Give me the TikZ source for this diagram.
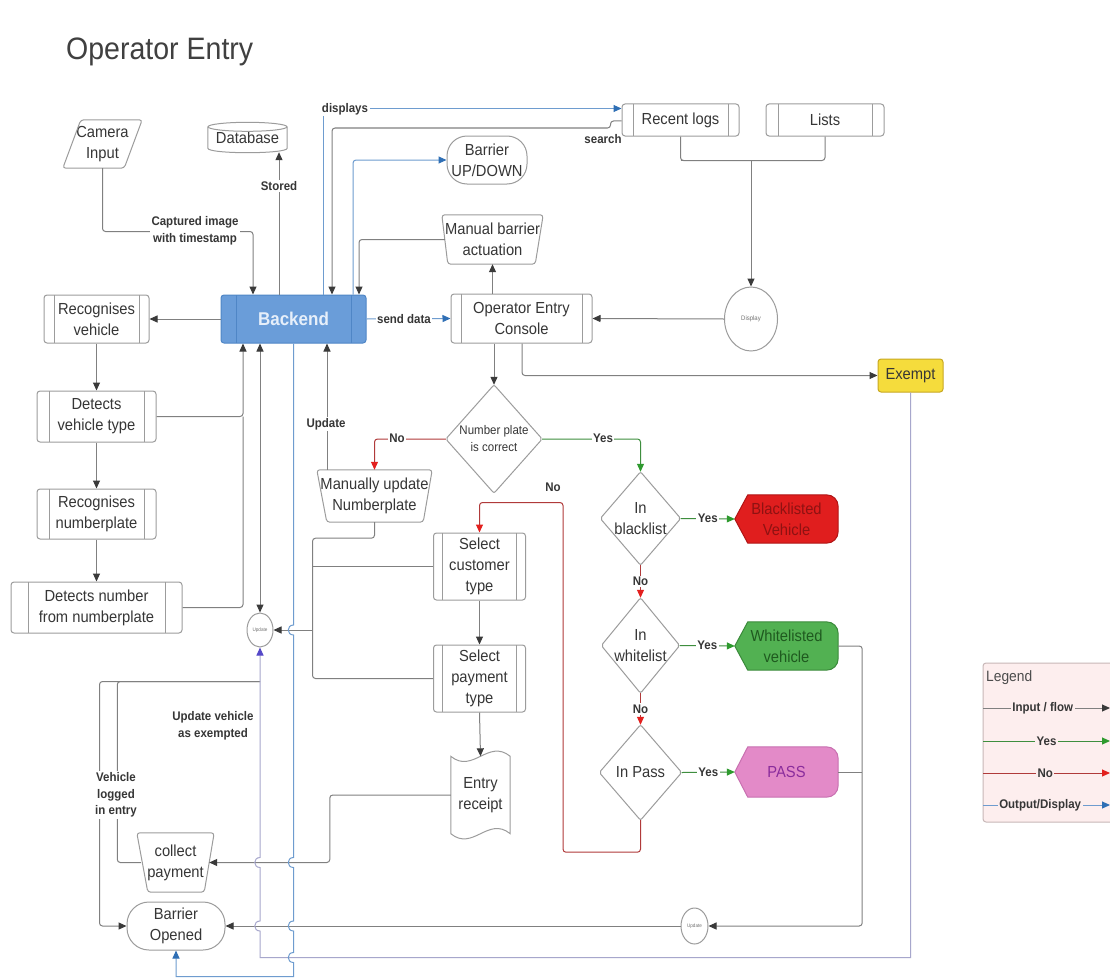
\documentclass[tikz,border=0pt]{standalone}
\usepackage{fontspec}
\setmainfont{Liberation Sans}[FakeStretch=0.92]
\usetikzlibrary{arrows.meta,backgrounds,calc,shapes.geometric}
\definecolor{txt}{HTML}{363636}
\definecolor{edge}{HTML}{9C9C9C}
\definecolor{lnc}{HTML}{808080}
\definecolor{tipc}{HTML}{3A3A3A}
\definecolor{bluel}{HTML}{6E9CCF}
\definecolor{bluet}{HTML}{2F6FB5}
\definecolor{greenl}{HTML}{3E8E3E}
\definecolor{greent}{HTML}{2E9A2E}
\definecolor{redl}{HTML}{B03A3A}
\definecolor{redt}{HTML}{E3201E}
\definecolor{purl}{HTML}{A7A7CC}
\definecolor{purt}{HTML}{5548C8}
\definecolor{backfill}{HTML}{6A9DD9}
\definecolor{backedge}{HTML}{4F86C6}
\definecolor{backtxt}{HTML}{E6EFFA}
\definecolor{exfill}{HTML}{F5DC3C}
\definecolor{exedge}{HTML}{C8A820}
\definecolor{blfill}{HTML}{E01E1E}
\definecolor{bledge}{HTML}{B01515}
\definecolor{bltxt}{HTML}{8E1212}
\definecolor{wlfill}{HTML}{52B152}
\definecolor{wledge}{HTML}{3A8A3A}
\definecolor{wltxt}{HTML}{1F5A1F}
\definecolor{psfill}{HTML}{E38AC8}
\definecolor{psedge}{HTML}{C870B0}
\definecolor{pstxt}{HTML}{8A2C9C}
\definecolor{legfill}{HTML}{FDEEEE}
\definecolor{legedge}{HTML}{C8B8B8}
\tikzset{
  baroff/.initial=10pt,
  barst/.style={draw=edge},
  base/.style={inner sep=0pt, align=center, text=txt, font=\fontsize{16}{21}\selectfont},
  shp/.style={base},
  ol/.style={draw=edge, line width=1pt},
  proc/.style={base, draw=edge, line width=1pt, rounded corners=3pt,
    path picture={\draw[barst, line width=1pt]
      ([xshift=\pgfkeysvalueof{/tikz/baroff}]path picture bounding box.north west) --
      ([xshift=\pgfkeysvalueof{/tikz/baroff}]path picture bounding box.south west)
      ([xshift=-\pgfkeysvalueof{/tikz/baroff}]path picture bounding box.north east) --
      ([xshift=-\pgfkeysvalueof{/tikz/baroff}]path picture bounding box.south east);}},
  lbl/.style={font=\bfseries\fontsize{12.5}{16.5}\selectfont, text=txt, fill=white, inner sep=1.5pt, align=center},
  lnk/.style={draw=lnc, line width=1pt},
  flink/.style={draw=lnc, line width=1pt, -{Triangle[width=7pt,length=8pt,color=tipc]}},
  olink/.style={draw=bluel, line width=1pt, -{Triangle[width=7pt,length=8pt,color=bluet]}},
  ylink/.style={draw=greenl, line width=1pt, -{Triangle[width=7pt,length=8pt,color=greent]}},
  nlink/.style={draw=redl, line width=1pt, -{Triangle[width=7pt,length=8pt,color=redt]}},
  plink/.style={draw=purl, line width=1pt, -{Triangle[width=7pt,length=8pt,color=purt]}},
}
\begin{document}
\begin{tikzpicture}[x=1pt,y=-1pt]
\useasboundingbox (0,0) rectangle (1110,979);

\node[base, anchor=west, font=\fontsize{31}{36}\selectfont, text=black!75] (title) at (66,52) {Operator Entry};

% ---------- nodes ----------
\node[shp, minimum width=79, minimum height=48] (cam) at (102.5,144) {Camera\\Input};
\node[shp, minimum width=79, minimum height=28] (db) at (247.5,138) {Database};
\node[proc, fill=backfill, draw=backedge, barst/.style={draw=backedge}, baroff=15pt,
      minimum width=145, minimum height=48, text=backtxt,
      font=\bfseries\fontsize{18.5}{22}\selectfont] (be) at (293.5,319) {Backend};
\node[proc, minimum width=105, minimum height=48] (rv) at (96.5,319) {Recognises\\vehicle};
\node[proc, baroff=12pt, minimum width=119, minimum height=51] (dvt) at (96.5,416.5) {Detects\\vehicle type};
\node[proc, baroff=12pt, minimum width=119, minimum height=50] (rn) at (96.5,514) {Recognises\\numberplate};
\node[proc, baroff=17pt, minimum width=171, minimum height=51] (dn) at (96.5,607.5) {Detects number\\from numberplate};
\node[proc, minimum width=141, minimum height=49] (con) at (521.5,318.5) {Operator Entry\\Console};
\node[proc, baroff=11pt, minimum width=117, minimum height=32] (rl) at (680.5,120) {Recent logs};
\node[proc, baroff=12pt, minimum width=118, minimum height=32] (li) at (825,120) {Lists};
\node[base, draw=edge, line width=1pt, rounded corners=20, minimum width=80, minimum height=48] (bud) at (487,160) {Barrier\\UP/DOWN};
\node[shp, minimum width=101, minimum height=49] (mba) at (492.5,239.5) {Manual barrier\\actuation};
\node[base, ellipse, draw=edge, line width=1pt, minimum width=53, minimum height=64,
      font=\fontsize{6.5}{8}\selectfont, text=black!55] (disp) at (751,319) {Display};
\node[base, draw=exedge, fill=exfill, line width=1pt, rounded corners=3, minimum width=65, minimum height=33] (ex) at (910.5,375.5) {Exempt};
\node[shp, minimum width=96, minimum height=108, font=\fontsize{12.5}{17}\selectfont] (np) at (494,439) {Number plate\\is correct};
\node[shp, minimum width=115, minimum height=52] (mun) at (374.5,496) {Manually update\\Numberplate};
\node[shp, minimum width=80, minimum height=93] (bl) at (640.5,518.5) {In\\blacklist};
\node[shp, minimum width=78, minimum height=95] (wl) at (640.5,645.5) {In\\whitelist};
\node[shp, minimum width=82, minimum height=95] (ip) at (640.5,772.5) {In Pass};
\node[shp, minimum width=103, minimum height=48, text=bltxt] (blv) at (786.5,519) {Blacklisted\\Vehicle};
\node[shp, minimum width=103, minimum height=48, text=wltxt] (wlv) at (786.5,646) {Whitelisted\\vehicle};
\node[shp, minimum width=103, minimum height=50, text=pstxt] (psv) at (786.5,772) {PASS};
\node[proc, baroff=9pt, minimum width=92, minimum height=67] (sc) at (479.5,566.5) {Select\\customer\\type};
\node[proc, baroff=9pt, minimum width=92, minimum height=67] (sp) at (479.5,678.5) {Select\\payment\\type};
\node[shp, minimum width=59, minimum height=77] (er) at (480.5,795) {Entry\\receipt};
\node[shp, minimum width=77, minimum height=59] (cp) at (175.5,862.5) {collect\\payment};
\node[base, draw=edge, line width=1pt, rounded corners=22, minimum width=98, minimum height=48] (bo) at (176,926) {Barrier\\Opened};
\node[base, ellipse, draw=edge, line width=1pt, minimum width=26, minimum height=34,
      font=\fontsize{5}{6}\selectfont, text=black!55] (up1) at (260,630) {Update};
\node[base, ellipse, draw=edge, line width=1pt, minimum width=27, minimum height=36,
      font=\fontsize{5}{6}\selectfont, text=black!55] (up2) at (694.5,926) {Update};

% ---------- custom outlines ----------
\begin{pgfonlayer}{background}
  \fill[white] (0,0) rectangle (1110,979);
  \foreach \n/\f/\d in {blv/blfill/bledge, wlv/wlfill/wledge, psv/psfill/psedge} {
    \filldraw[fill=\f, draw=\d, line width=1pt] (\n.west) -- ($(\n.north west)+(13,0)$)
      -- ($(\n.north east)+(-12,0)$) .. controls ($(\n.north east)+(-5,0)$) and ($(\n.north east)+(0,5)$) .. ($(\n.north east)+(0,12)$)
      -- ($(\n.south east)+(0,-12)$) .. controls ($(\n.south east)+(0,-5)$) and ($(\n.south east)+(-5,0)$) .. ($(\n.south east)+(-12,0)$)
      -- ($(\n.south west)+(13,0)$) -- cycle;
  }
  % legend box
  \filldraw[draw=legedge, fill=legfill, line width=1pt, rounded corners=3] (983,663) rectangle (1125,822);
\end{pgfonlayer}
\draw[ol, rounded corners=3] ($(cam.north west)+(18,0)$) -- (cam.north east) -- ($(cam.south east)+(-18,0)$) -- (cam.south west) -- cycle;
\draw[ol] ($(db.north)+(0,3)$) ellipse [x radius=39.5, y radius=4.5];
\draw[ol] ($(db.north west)+(0,3)$) -- ($(db.south west)+(0,-4)$) .. controls ($(db.south west)+(0,2)$) and ($(db.south east)+(0,2)$) .. ($(db.south east)+(0,-4)$) -- ($(db.north east)+(0,3)$);
\draw[ol, rounded corners=3] (mba.north west) -- (mba.north east) -- ($(mba.south east)+(-8,0)$) -- ($(mba.south west)+(6,0)$) -- cycle;
\draw[ol, rounded corners=3] (mun.north west) -- (mun.north east) -- ($(mun.south east)+(-9,0)$) -- ($(mun.south west)+(10,0)$) -- cycle;
\draw[ol, rounded corners=3] (cp.north west) -- (cp.north east) -- ($(cp.south east)+(-10,0)$) -- ($(cp.south west)+(11,0)$) -- cycle;
\foreach \n in {np,bl,wl,ip} {
  \draw[ol, rounded corners=2] (\n.north) -- (\n.east) -- (\n.south) -- (\n.west) -- cycle;
}
\draw[ol] (er.north west) .. controls ($(er.north west)+(22,18)$) and ($(er.north east)+(-22,-18)$) .. (er.north east)
  -- (er.south east) .. controls ($(er.south east)+(-22,-18)$) and ($(er.south west)+(22,18)$) .. (er.south west) -- cycle;

% ---------- connectors ----------
\draw[flink, rounded corners=3] (cam.south) |- ($(be.north)+(-40.5,-63)$) -- ([xshift=-40.5]be.north);
\node[lbl] (lcap) at (195,231) {Captured image\\with timestamp};
\draw[flink] ([xshift=-14.5]be.north) -- ([xshift=-14.5]be.north |- db.south);
\node[lbl] (lsto) at (279,186) {Stored};
\draw[olink] ([xshift=29.5]be.north) |- ($(rl.north west)+(0,5)$);
\node[lbl] (ldisp) at (345,109) {displays};
\draw[flink, rounded corners=3] ($(rl.west)+(0,1)$) -- ++(-11,0) -- ++(0,7) -| ([xshift=38.5]be.north);
\node[lbl, fill=none] (lsea) at (603,139) {search};
\draw[olink, rounded corners=3] ([xshift=59.5]be.north) |- (bud.west);
\draw[flink, rounded corners=3] ([xshift=3]mba.west) -| ([xshift=65.5]be.north);
\draw[flink] (con.north -| mba.south) -- (mba.south);
\draw[olink] (be.east) -- (con.west);
\node[lbl] (lsend) at (404,319) {send data};
\draw[lnk, rounded corners=3] (rl.south) -- ++(0,24) -| (li.south);
\draw[flink] ($(rl.south)+(0,24)$) -| (disp.north);
\draw[flink] (disp.west) -- (con.east);
\draw[flink, rounded corners=3] ([xshift=0.5]con.south) |- (ex.west);
\draw[flink] ([xshift=-27.5]con.south) -- (np.north);
\draw[nlink, rounded corners=3] (np.west) -| (mun.north);
\node[lbl] (lno1) at (397,438) {No};
\draw[ylink, rounded corners=3] (np.east) -| (bl.north);
\node[lbl] (lyes1) at (603,438) {Yes};
\draw[flink] ([xshift=-47.5]mun.north) -- ([xshift=-47.5]mun.north |- be.south);
\node[lbl] (lupd) at (326,424) {Update};
\draw[lnk, rounded corners=3] (mun.south) -- ++(0,16) -| ($(sp.west)+(-120.5,0)$) -- (sp.west);
\draw[lnk] (sc.west) -- ++(-120.5,0);
\draw[flink] ($(sc.west)+(-120.5,63.5)$) -- (up1.east);
\draw[lnk, {Triangle[width=7pt,length=8pt,color=tipc]}-{Triangle[width=7pt,length=8pt,color=tipc]}] (be.south -| up1.north) -- (up1.north);
\draw[flink, rounded corners=3] (dvt.east) -| ([xshift=-50.5]be.south);
\draw[lnk, rounded corners=3] (dn.east) -| ([xshift=-50.5]be.south |- dvt.east);
\draw[flink] (be.west) -- (rv.east);
\draw[flink] (rv.south) -- (dvt.north);
\draw[flink] (dvt.south) -- (rn.north);
\draw[flink] (rn.south) -- (dn.north);
\draw[ylink] (bl.east) -- (blv.west) node[lbl, midway] {Yes};
\draw[nlink] (bl.south) -- (wl.north) node[lbl, midway] {No};
\draw[ylink] (wl.east) -- (wlv.west) node[lbl, midway] {Yes};
\draw[nlink] (wl.south) -- (ip.north) node[lbl, midway] {No};
\draw[ylink] (ip.east) -- (psv.west) node[lbl, midway] {Yes};
\draw[nlink, rounded corners=3] (ip.south) -- ++(0,32) -| ($(sc.north)+(83.5,-30)$) -| (sc.north);
\node[lbl, fill=none] (lno2) at (553,487) {No};
\draw[flink] (sc.south) -- (sp.north);
\draw[flink] (sp.south) -- (er.north);
\draw[flink, rounded corners=3] (er.west) -- ++(-121,0) |- ([xshift=-5]cp.east);
\draw[lnk, rounded corners=3] ([xshift=4]cp.west) -- ++(-23.5,0) |- ($(up1.south)+(0,34)$);
\draw[flink, rounded corners=3] ($(up1.south)+(0,34)$) -| ($(bo.west)+(-27,0)$) -- (bo.west);
\node[lbl] (lveh) at (116,795) {Vehicle\\logged\\in entry};
\node[lbl, fill=none] (lexm) at (213,726) {Update vehicle\\as exempted};
\draw[flink, rounded corners=3] (wlv.east) -- ++(24,0) |- (up2.east);
\draw[lnk] (psv.east) -- ++(24,0);
\draw[flink] (up2.west) -- (bo.east);

% exempt -> update (purple, with hops)
\coordinate (pb) at ($(ex.south)+(0,565)$);
\coordinate (pc) at (pb -| up1.south);
\draw[plink] (ex.south) -- (pb) -- (pc)
  -- ($(pc |- bo.east)+(0,5)$) .. controls +(-7,0) and +(-7,0) .. ($(pc |- bo.east)+(0,-5)$)
  -- ($(pc |- cp.east)+(0,5)$) .. controls +(-7,0) and +(-7,0) .. ($(pc |- cp.east)+(0,-5)$)
  -- (up1.south);

% backend -> barrier opened (blue, with hops)
\coordinate (qb) at ($(be.south)+(0,633)$);
\draw[olink] (be.south)
  -- ($(be.south |- up1.east)+(0,-5)$) .. controls +(-7,0) and +(-7,0) .. ($(be.south |- up1.east)+(0,5)$)
  -- ($(be.south |- cp.east)+(0,-5)$) .. controls +(-7,0) and +(-7,0) .. ($(be.south |- cp.east)+(0,5)$)
  -- ($(be.south |- bo.east)+(0,-5)$) .. controls +(-7,0) and +(-7,0) .. ($(be.south |- bo.east)+(0,5)$)
  -- ($(be.south |- pb)+(0,-5)$) .. controls +(-7,0) and +(-7,0) .. ($(be.south |- pb)+(0,5)$)
  -- (qb) -| (bo.south);

% ---------- legend ----------
\node[base, anchor=west, font=\fontsize{15}{18}\selectfont, text=black!70] (lgt) at (986,678) {Legend};
\coordinate (la1) at (983,708); \coordinate (lb1) at (1110,708);
\coordinate (la2) at (983,741); \coordinate (lb2) at (1110,741);
\coordinate (la3) at (983,773); \coordinate (lb3) at (1110,773);
\coordinate (la4) at (983,805); \coordinate (lb4) at (1110,805);
\draw[flink] (la1) -- (lb1) node[lbl, fill=legfill, pos=0.47] {Input / flow};
\draw[ylink] (la2) -- (lb2) node[lbl, fill=legfill, pos=0.5] {Yes};
\draw[nlink] (la3) -- (lb3) node[lbl, fill=legfill, pos=0.49] {No};
\draw[olink] (la4) -- (lb4) node[lbl, fill=legfill, pos=0.45] {Output/Display};
\end{tikzpicture}
\end{document}
